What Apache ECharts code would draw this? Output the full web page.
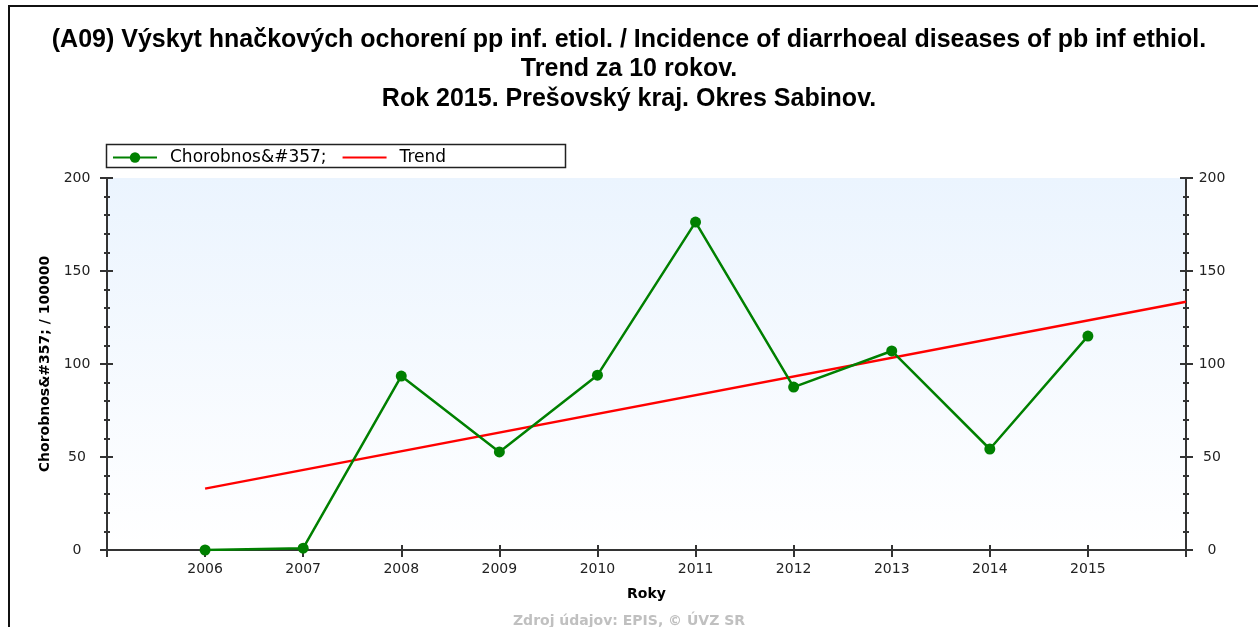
<!DOCTYPE html>
<html>
<head>
<meta charset="utf-8">
<script src="https://cdn.jsdelivr.net/npm/echarts@6/dist/echarts.min.js"></script>
<style>
  html, body { margin: 0; padding: 0; background: #fff; }
  #chart { width: 1258px; height: 627px; }
</style>
</head>
<body>
<div id="chart"></div>
<script>
  // values
  const years = [2006, 2007, 2008, 2009, 2010, 2011, 2012, 2013, 2014, 2015];
  const rates = [0, 1, 93.5, 52.7, 94, 176.3, 87.6, 107, 54.3, 115];
  const trendYears = [2006, 2016];
  const trendRates = [33, 133.5];
  const yTicks = [0, 50, 100, 150, 200];

  const seriesName = 'Chorobnos&#357;';
  const trendName = 'Trend';
  const titleText = '(A09) Výskyt hnačkových ochorení pp inf. etiol. / Incidence of diarrhoeal diseases of pb inf ethiol.\nTrend za 10 rokov.\nRok 2015. Prešovský kraj. Okres Sabinov.';
  const sourceText = 'Zdroj údajov: EPIS, © ÚVZ SR';

  const font = 'DejaVu Sans';
  const axisColor = '#333';
  const xMin = 2005, xMax = 2016;
  const yMin = yTicks[0], yMax = yTicks[yTicks.length - 1];

  const chart = echarts.init(document.getElementById('chart'));

  const yBase = {
    type: 'value', min: yMin, max: yMax, interval: 50,
    splitLine: { show: false },
    axisLine: { show: true, lineStyle: { color: axisColor, width: 2 } },
    minorTick: { show: true, splitNumber: 5, length: 3, lineStyle: { color: axisColor, width: 2 } },
    minorSplitLine: { show: false }
  };
  const xBase = {
    type: 'value', min: xMin, max: xMax, interval: 1,
    splitLine: { show: false },
    axisLine: { show: true, lineStyle: { color: axisColor, width: 2 } }
  };

  const option = {
    animation: false,
    backgroundColor: '#fff',
    title: {
      text: titleText,
      left: 'center',
      top: 20,
      textStyle: {
        fontFamily: 'Liberation Sans', fontWeight: 'bold', fontSize: 25,
        lineHeight: 29.5, color: '#000'
      }
    },
    legend: {
      left: 112, top: 149,
      itemWidth: 44, itemHeight: 13, itemGap: 15,
      padding: 0,
      textStyle: { fontFamily: font, fontSize: 17, color: '#000', padding: [0, 0, 0, 8] },
      data: [
        { name: seriesName },
        { name: trendName, itemStyle: { opacity: 0 } }
      ]
    },
    grid: {
      left: 107, right: 72, top: 178, bottom: 77,
      show: true, borderWidth: 0,
      backgroundColor: {
        type: 'linear', x: 0, y: 0, x2: 0, y2: 1,
        colorStops: [{ offset: 0, color: '#ebf4fe' }, { offset: 1, color: '#ffffff' }]
      }
    },
    xAxis: [
      Object.assign({}, xBase, {
        position: 'bottom',
        name: 'Roky', nameLocation: 'middle', nameGap: 37,
        nameTextStyle: { fontFamily: font, fontWeight: 'bold', fontSize: 14, color: '#000' },
        axisTick: { show: true, length: 7, lineStyle: { color: axisColor, width: 2 } },
        axisLabel: {
          fontFamily: font, fontSize: 14, color: '#222', margin: 12,
          formatter: v => (v === xMin || v === xMax ? '' : String(v))
        }
      }),
      Object.assign({}, xBase, {
        position: 'bottom',
        axisTick: { show: true, inside: true, length: 5, lineStyle: { color: axisColor, width: 2 } },
        axisLabel: { show: false }
      }),
      Object.assign({}, xBase, {
        position: 'top',
        axisTick: { show: true, inside: true, length: 6, lineStyle: { color: axisColor, width: 2 } },
        axisLabel: { show: false }
      })
    ],
    yAxis: [
      Object.assign({}, yBase, {
        position: 'left',
        name: 'Chorobnos&#357; / 100000', nameLocation: 'middle', nameGap: 47,
        nameTextStyle: { fontFamily: font, fontWeight: 'bold', fontSize: 14, color: '#000' },
        axisTick: { show: true, length: 7, lineStyle: { color: axisColor, width: 2 } },
        axisLabel: { fontFamily: font, fontSize: 14, color: '#222', margin: 30, align: 'center' }
      }),
      Object.assign({}, yBase, {
        position: 'left',
        axisTick: { show: true, inside: true, length: 6, lineStyle: { color: axisColor, width: 2 } },
        axisLabel: { show: false }
      }),
      Object.assign({}, yBase, {
        position: 'right',
        axisTick: { show: true, length: 7, lineStyle: { color: axisColor, width: 2 } },
        axisLabel: { fontFamily: font, fontSize: 14, color: '#222', margin: 26, align: 'center' }
      }),
      Object.assign({}, yBase, {
        position: 'right',
        axisTick: { show: true, inside: true, length: 6, lineStyle: { color: axisColor, width: 2 } },
        axisLabel: { show: false }
      })
    ],
    series: [
      {
        name: seriesName,
        type: 'line',
        xAxisIndex: 0, yAxisIndex: 0,
        data: years.map((y, i) => [y, rates[i]]),
        symbol: 'circle', symbolSize: 11,
        color: '#008000',
        lineStyle: { color: '#008000', width: 2.5 },
        itemStyle: { color: '#008000' },
        z: 3
      },
      {
        name: trendName,
        type: 'line',
        xAxisIndex: 0, yAxisIndex: 0,
        data: trendYears.map((y, i) => [y, trendRates[i]]),
        symbol: 'none',
        color: '#ff0000',
        lineStyle: { color: '#ff0000', width: 2.5 },
        z: 2
      }
    ],
    graphic: [
      {
        type: 'rect', silent: true, z: -1,
        shape: { x: 9, y: 6, width: 1300, height: 700 },
        style: { fill: 'none', stroke: '#111', lineWidth: 2 }
      },
      {
        type: 'rect', silent: true,
        shape: { x: 106.5, y: 144.5, width: 459, height: 23 },
        style: { fill: '#fff', stroke: '#222', lineWidth: 1.5 },
        z: 0
      },
      {
        type: 'text', left: 'center', top: 614,
        style: {
          text: sourceText, fill: '#c0c0c0',
          font: 'bold 14px "DejaVu Sans"'
        }
      }
    ]
  };

  chart.setOption(option);
</script>
</body>
</html>
